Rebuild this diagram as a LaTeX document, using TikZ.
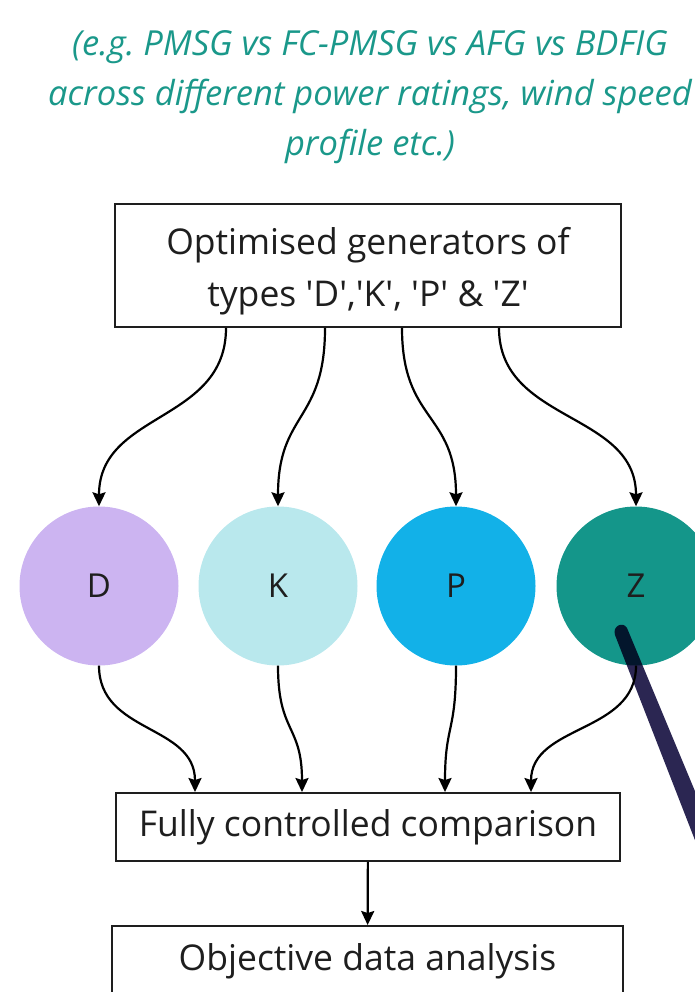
\documentclass[tikz,border=0pt]{standalone}
\usepackage{fontspec}
\setmainfont{Open Sans}[Ligatures=TeXOff]
\usetikzlibrary{arrows.meta,calc}
\definecolor{notateal}{RGB}{26,152,138}
\definecolor{tipoD}{RGB}{204,180,241}
\definecolor{tipoK}{RGB}{185,232,237}
\definecolor{tipoP}{RGB}{18,177,232}
\definecolor{tipoZ}{RGB}{20,150,138}
\definecolor{cuna}{RGB}{43,38,82}
\definecolor{tinta}{RGB}{30,30,30}
\frenchspacing
\begin{document}
\begin{tikzpicture}[x=1pt,y=-1pt,
    caja/.style={draw=tinta,line width=1.9pt,minimum width=#1,inner sep=0pt},
    texto/.style={align=center,text=tinta,font=\fontsize{35.5}{52}\selectfont},
    gen/.style={circle,fill=#1,minimum size=159pt,inner sep=0pt,text=tinta,
      font=\fontsize{33}{36}\selectfont},
    flujo/.style={-{Stealth[length=14pt,width=13pt,inset=2pt]},line width=2.2pt,draw=black}]
  \useasboundingbox (0,0) rectangle (695,992);
  \clip (0,0) rectangle (695,992);

  % Nota de arriba
  \node[text=notateal,align=center,font=\fontsize{34.5}{50}\selectfont\itshape] (nota) at (370,97)
    {(e.g. PMSG vs FC-PMSG vs AFG vs BDFIG\\across different power ratings, wind speed\\profile etc.)};

  % Cajas
  \node[caja=506pt,minimum height=123pt] (optim) at (368,265.5) {};
  \node[texto] (optimtxt) at (368,271) {Optimised generators of\\types 'D','K', 'P' \& 'Z'};
  \node[caja=504pt,minimum height=68pt,texto] (comp) at (368,827) {Fully controlled comparison};
  \node[caja=511pt,minimum height=70pt,texto] (anal) at (367.5,961) {Objective data analysis};

  % Generadores
  \node[gen=tipoD] (D) at (99,586) {D};
  \node[gen=tipoK] (K) at (278,586) {K};
  \node[gen=tipoP] (P) at (456,586) {P};
  \node[gen=tipoZ] (Z) at (636,586) {Z};

  % Cuna oscura sobre Z
  \begin{scope}[blend mode=multiply]
    \fill[cuna] (615,635) .. controls (612,626) and (623,621) .. (627,628)
      -- (712,832) -- (707,871) -- cycle;
  \end{scope}

  % Flechas de la caja a los generadores
  \draw[flujo] ([xshift=-142pt]optim.south) .. controls +(0,95) and +(0,-95) .. (D.north);
  \draw[flujo] ([xshift=-43pt]optim.south) .. controls +(0,95) and +(0,-95) .. (K.north);
  \draw[flujo] ([xshift=34pt]optim.south) .. controls +(0,95) and +(0,-95) .. (P.north);
  \draw[flujo] ([xshift=131pt]optim.south) .. controls +(0,95) and +(0,-95) .. (Z.north);

  % Flechas de los generadores a la comparacion
  \draw[flujo] (D.south) .. controls +(0,68) and +(0,-68) .. ([xshift=-173pt]comp.north);
  \draw[flujo] (K.south) .. controls +(0,68) and +(0,-68) .. ([xshift=-66pt]comp.north);
  \draw[flujo] (P.south) .. controls +(0,68) and +(0,-68) .. ([xshift=77pt]comp.north);
  \draw[flujo] (Z.south) .. controls +(0,68) and +(0,-68) .. ([xshift=163pt]comp.north);

  \draw[flujo] (comp) -- (anal);
\end{tikzpicture}
\end{document}
